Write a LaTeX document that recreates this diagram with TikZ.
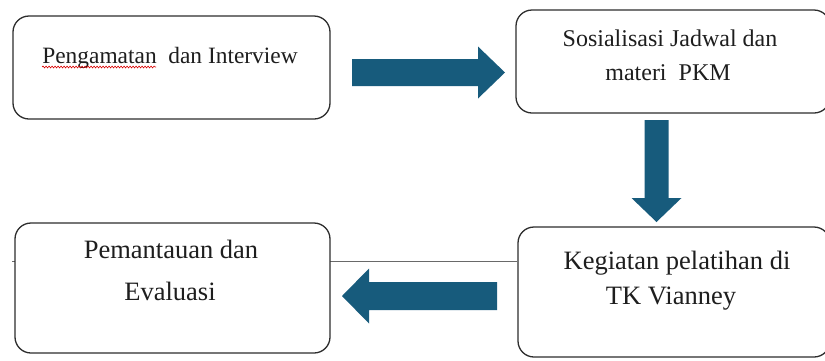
\documentclass[tikz,border=0pt]{standalone}
\usepackage{fontspec}
\setmainfont{Liberation Serif}
\usetikzlibrary{calc,backgrounds,decorations.pathmorphing}
\definecolor{arrowblue}{RGB}{23,91,124}
\definecolor{boxline}{RGB}{45,45,45}
\definecolor{linkgray}{RGB}{105,105,105}
\definecolor{txt}{RGB}{30,30,30}
\begin{document}
\begin{tikzpicture}[x=1pt,y=-1pt,
  box/.style={draw=boxline, line width=1.3pt, rounded corners=16pt, fill=white, inner sep=0pt},
  lbl/.style={inner sep=0pt, anchor=base, text=txt},
  barrow/.style={fill=arrowblue},
  link/.style={draw=linkgray, line width=0.8pt},
  squiggle/.style={draw=red!85!black, line width=0.6pt, decorate, decoration={snake, amplitude=0.9pt, segment length=3pt}}]
\useasboundingbox (0,0) rectangle (825,360);
% boxes
\node[box, minimum width=317pt, minimum height=103pt] (b1) at (171.5,67.5) {};
\node[box, minimum width=314pt, minimum height=103pt] (b2) at (673,61.5) {};
\node[box, minimum width=312pt, minimum height=130pt] (b3) at (674,292) {};
\node[box, minimum width=315pt, minimum height=130pt] (b4) at (172.5,288) {};
% texts
\node[lbl, font=\fontsize{23.4}{28}\selectfont] (t1) at (170,63) {Pengamatan\ \ dan Interview};
\node[lbl, font=\fontsize{24}{28}\selectfont] (t2a) at (670,46) {Sosialisasi Jadwal dan};
\node[lbl, font=\fontsize{24}{28}\selectfont] (t2b) at (668,80) {materi\ \ PKM};
\node[lbl, font=\fontsize{26.5}{30}\selectfont] (t3a) at (677,269) {Kegiatan pelatihan di};
\node[lbl, font=\fontsize{26.5}{30}\selectfont] (t3b) at (671,304) {TK Vianney};
\node[lbl, font=\fontsize{26.5}{30}\selectfont] (t4a) at (171,258) {Pemantauan dan};
\node[lbl, font=\fontsize{26.5}{30}\selectfont] (t4b) at (170,300) {Evaluasi};
% spelling underline
\draw[squiggle] ($(t1.base west)+(0,4)$) -- ($(t1.base west)+(114,4)$);
% thin link line behind the boxes
\coordinate (lk) at (12,261);
\begin{pgfonlayer}{background}
  \draw[link] (lk) -- (lk -| b3.west);
\end{pgfonlayer}
% block arrows
\coordinate (r1) at (352,72.5);
\coordinate (r2) at (505,72.5);
\fill[barrow] ($(r1)+(0,-13.5)$) -- ($(r2)+(-27,-13.5)$) -- ($(r2)+(-27,-26)$) -- (r2)
  -- ($(r2)+(-27,26)$) -- ($(r2)+(-27,13.5)$) -- ($(r1)+(0,13.5)$) -- cycle;
\coordinate (d1) at (656.5,120);
\coordinate (d2) at (656.5,222);
\fill[barrow] ($(d1)+(-12,0)$) -- ($(d2)+(-12,-24)$) -- ($(d2)+(-25,-24)$) -- (d2)
  -- ($(d2)+(25,-24)$) -- ($(d2)+(12,-24)$) -- ($(d1)+(12,0)$) -- cycle;
\coordinate (l1) at (497,296);
\coordinate (l2) at (342,296);
\fill[barrow] ($(l1)+(0,-14)$) -- ($(l2)+(27,-14)$) -- ($(l2)+(27,-27.5)$) -- (l2)
  -- ($(l2)+(27,27.5)$) -- ($(l2)+(27,14)$) -- ($(l1)+(0,14)$) -- cycle;
\end{tikzpicture}
\end{document}
